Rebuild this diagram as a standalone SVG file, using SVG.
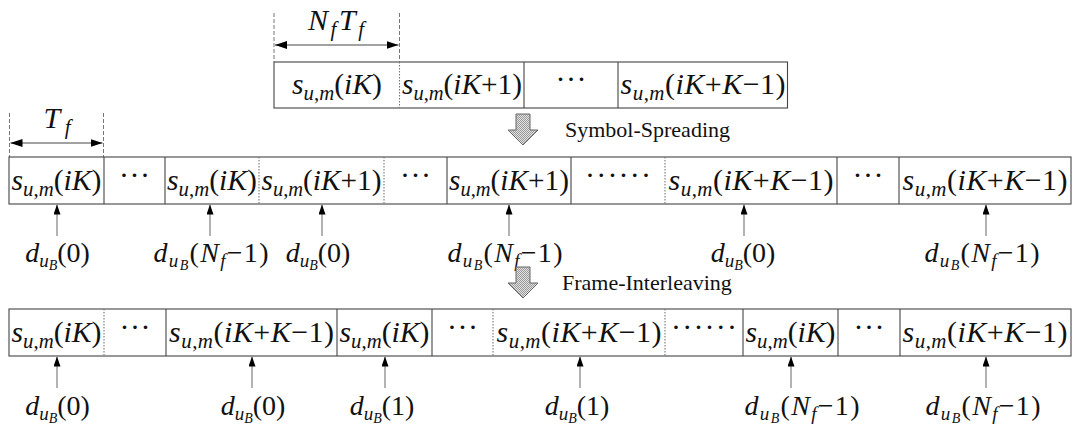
<svg xmlns="http://www.w3.org/2000/svg" width="1073" height="429" viewBox="0 0 1073 429">
<style>
text{font-family:"Liberation Serif","Times New Roman",serif;fill:#111}
.m{font-size:30px}
.d{font-size:28px}
.i{font-style:italic}
.s{font-size:21px}
.ds{font-size:19px}
.ss{font-size:14px}
.lbl{font-size:22px}
.box{fill:#fff;stroke:#444;stroke-width:1.1}
.dv{stroke:#444;stroke-width:1.1}
.dd{stroke:#777;stroke-width:1.1;stroke-dasharray:1.5 1.5}
.stem{stroke:#666;stroke-width:1}
.dim{stroke:#444;stroke-width:1}
.ext{stroke:#777;stroke-width:1;stroke-dasharray:4 2}
.blk{fill:url(#hatch);stroke:#666;stroke-width:1}
</style>
<defs>
<pattern id="hatch" width="2" height="2" patternUnits="userSpaceOnUse"><rect width="2" height="2" fill="#e2e2e2"/><rect width="1" height="1" fill="#9a9a9a"/><rect x="1" y="1" width="1" height="1" fill="#9a9a9a"/></pattern>
<marker id="ah" markerWidth="10" markerHeight="7" refX="10" refY="3.5" orient="auto" markerUnits="userSpaceOnUse"><path d="M0,0 L10,3.5 L0,7 z" fill="#000"/></marker>
<marker id="ah2" markerWidth="12" markerHeight="8" refX="12" refY="4" orient="auto-start-reverse" markerUnits="userSpaceOnUse"><path d="M0,0 L12,4 L0,8 z" fill="#000"/></marker>
</defs>

<!-- Top row -->
<g id="top-row">
<rect class="box" x="274" y="62" width="513.5" height="46"/>
<line class="dd" x1="399.5" y1="62" x2="399.5" y2="108"/>
<line class="dv" x1="524" y1="62" x2="524" y2="108"/>
<line class="dv" x1="618" y1="62" x2="618" y2="108"/>
<text class="m" x="337" y="94" text-anchor="middle" textLength="90" lengthAdjust="spacingAndGlyphs"><tspan class="i">s</tspan><tspan class="s i" dy="6">u</tspan><tspan class="s">,</tspan><tspan class="s i">m</tspan><tspan dy="-6">(</tspan><tspan class="i">iK</tspan>)</text>
<text class="m" x="462" y="94" text-anchor="middle" textLength="120" lengthAdjust="spacingAndGlyphs"><tspan class="i">s</tspan><tspan class="s i" dy="6">u</tspan><tspan class="s">,</tspan><tspan class="s i">m</tspan><tspan dy="-6">(</tspan><tspan class="i">iK</tspan>+1)</text>
<text class="m" x="571" y="89" text-anchor="middle" textLength="31" lengthAdjust="spacing">···</text>
<text class="m" x="703" y="94" text-anchor="middle" textLength="165" lengthAdjust="spacing"><tspan class="i">s</tspan><tspan class="s i" dy="6">u</tspan><tspan class="s">,</tspan><tspan class="s i">m</tspan><tspan dy="-6">(</tspan><tspan class="i">iK</tspan>+<tspan class="i">K</tspan>−1)</text>
</g>

<g id="dim-NfTf">
<line class="ext" x1="274" y1="13" x2="274" y2="62"/>
<line class="ext" x1="399.5" y1="13" x2="399.5" y2="62"/>
<line class="dim" x1="275" y1="45" x2="398.5" y2="45" marker-start="url(#ah2)" marker-end="url(#ah2)"/>
<text class="m" x="336" y="30" text-anchor="middle" textLength="56" lengthAdjust="spacing"><tspan class="i">N</tspan><tspan class="s i" dy="6">f</tspan><tspan class="i" dy="-6">T</tspan><tspan class="s i" dy="6">f</tspan></text>
</g>

<g id="step-symbol-spreading">
<path class="blk" d="M516,114 H530 V130 H538 L523,145 L508,130 H516 Z"/>
<text class="lbl" x="565" y="137">Symbol-Spreading</text>
</g>

<g id="dim-Tf">
<line class="ext" x1="9.5" y1="113" x2="9.5" y2="157"/>
<line class="ext" x1="103.5" y1="113" x2="103.5" y2="157"/>
<line class="dim" x1="10.5" y1="143" x2="102.5" y2="143" marker-start="url(#ah2)" marker-end="url(#ah2)"/>
<text class="m" x="57" y="128" text-anchor="middle" textLength="27" lengthAdjust="spacing"><tspan class="i">T</tspan><tspan class="s i" dy="6">f</tspan></text>
</g>

<!-- Row 2: after symbol spreading -->
<g id="row-spread">
<rect class="box" x="9" y="157" width="1062" height="47"/>
<line class="dv" x1="104" y1="157" x2="104" y2="204"/>
<line class="dv" x1="165" y1="157" x2="165" y2="204"/>
<line class="dd" x1="259" y1="157" x2="259" y2="204"/>
<line class="dd" x1="384" y1="157" x2="384" y2="204"/>
<line class="dv" x1="447" y1="157" x2="447" y2="204"/>
<line class="dv" x1="571" y1="157" x2="571" y2="204"/>
<line class="dd" x1="665" y1="157" x2="665" y2="204"/>
<line class="dv" x1="837" y1="157" x2="837" y2="204"/>
<line class="dv" x1="899" y1="157" x2="899" y2="204"/>
<text class="m" x="56.5" y="189.5" text-anchor="middle" textLength="90" lengthAdjust="spacingAndGlyphs"><tspan class="i">s</tspan><tspan class="s i" dy="6">u</tspan><tspan class="s">,</tspan><tspan class="s i">m</tspan><tspan dy="-6">(</tspan><tspan class="i">iK</tspan>)</text>
<text class="m" x="134.5" y="184.5" text-anchor="middle" textLength="31" lengthAdjust="spacing">···</text>
<text class="m" x="212" y="189.5" text-anchor="middle" textLength="90" lengthAdjust="spacingAndGlyphs"><tspan class="i">s</tspan><tspan class="s i" dy="6">u</tspan><tspan class="s">,</tspan><tspan class="s i">m</tspan><tspan dy="-6">(</tspan><tspan class="i">iK</tspan>)</text>
<text class="m" x="321.5" y="189.5" text-anchor="middle" textLength="120" lengthAdjust="spacingAndGlyphs"><tspan class="i">s</tspan><tspan class="s i" dy="6">u</tspan><tspan class="s">,</tspan><tspan class="s i">m</tspan><tspan dy="-6">(</tspan><tspan class="i">iK</tspan>+1)</text>
<text class="m" x="415.5" y="184.5" text-anchor="middle" textLength="31" lengthAdjust="spacing">···</text>
<text class="m" x="509" y="189.5" text-anchor="middle" textLength="120" lengthAdjust="spacingAndGlyphs"><tspan class="i">s</tspan><tspan class="s i" dy="6">u</tspan><tspan class="s">,</tspan><tspan class="s i">m</tspan><tspan dy="-6">(</tspan><tspan class="i">iK</tspan>+1)</text>
<text class="m" x="618" y="184.5" text-anchor="middle" textLength="66" lengthAdjust="spacing">······</text>
<text class="m" x="751" y="189.5" text-anchor="middle" textLength="165" lengthAdjust="spacing"><tspan class="i">s</tspan><tspan class="s i" dy="6">u</tspan><tspan class="s">,</tspan><tspan class="s i">m</tspan><tspan dy="-6">(</tspan><tspan class="i">iK</tspan>+<tspan class="i">K</tspan>−1)</text>
<text class="m" x="868" y="184.5" text-anchor="middle" textLength="31" lengthAdjust="spacing">···</text>
<text class="m" x="985" y="189.5" text-anchor="middle" textLength="165" lengthAdjust="spacing"><tspan class="i">s</tspan><tspan class="s i" dy="6">u</tspan><tspan class="s">,</tspan><tspan class="s i">m</tspan><tspan dy="-6">(</tspan><tspan class="i">iK</tspan>+<tspan class="i">K</tspan>−1)</text>
</g>

<g id="labels-spread">
<text class="d" x="57.5" y="262" text-anchor="middle"><tspan class="i">d</tspan><tspan class="ds i" dy="5">u</tspan><tspan class="ss i" dy="3">B</tspan><tspan dy="-8">(0)</tspan></text>
<text class="d" x="211" y="262" text-anchor="middle" textLength="115" lengthAdjust="spacing"><tspan class="i">d</tspan><tspan class="ds i" dy="5">u</tspan><tspan class="ss i" dy="3">B</tspan><tspan dy="-8">(</tspan><tspan class="i">N</tspan><tspan class="ds i" dy="5">f</tspan><tspan dy="-5">−1)</tspan></text>
<text class="d" x="318" y="262" text-anchor="middle"><tspan class="i">d</tspan><tspan class="ds i" dy="5">u</tspan><tspan class="ss i" dy="3">B</tspan><tspan dy="-8">(0)</tspan></text>
<text class="d" x="505" y="262" text-anchor="middle" textLength="115" lengthAdjust="spacing"><tspan class="i">d</tspan><tspan class="ds i" dy="5">u</tspan><tspan class="ss i" dy="3">B</tspan><tspan dy="-8">(</tspan><tspan class="i">N</tspan><tspan class="ds i" dy="5">f</tspan><tspan dy="-5">−1)</tspan></text>
<text class="d" x="743" y="262" text-anchor="middle"><tspan class="i">d</tspan><tspan class="ds i" dy="5">u</tspan><tspan class="ss i" dy="3">B</tspan><tspan dy="-8">(0)</tspan></text>
<text class="d" x="982" y="262" text-anchor="middle" textLength="115" lengthAdjust="spacing"><tspan class="i">d</tspan><tspan class="ds i" dy="5">u</tspan><tspan class="ss i" dy="3">B</tspan><tspan dy="-8">(</tspan><tspan class="i">N</tspan><tspan class="ds i" dy="5">f</tspan><tspan dy="-5">−1)</tspan></text>
</g>

<g id="step-frame-interleaving">
<path class="blk" d="M516,267 H530 V283 H538 L523,298 L508,283 H516 Z"/>
<text class="lbl" x="562" y="290">Frame-Interleaving</text>
</g>

<!-- Row 3: after frame interleaving -->
<g id="row-interleave">
<rect class="box" x="9" y="309" width="1062" height="47"/>
<line class="dd" x1="104" y1="309" x2="104" y2="356"/>
<line class="dv" x1="166" y1="309" x2="166" y2="356"/>
<line class="dv" x1="337" y1="309" x2="337" y2="356"/>
<line class="dv" x1="432" y1="309" x2="432" y2="356"/>
<line class="dd" x1="493" y1="309" x2="493" y2="356"/>
<line class="dd" x1="665" y1="309" x2="665" y2="356"/>
<line class="dv" x1="743" y1="309" x2="743" y2="356"/>
<line class="dv" x1="838" y1="309" x2="838" y2="356"/>
<line class="dv" x1="900" y1="309" x2="900" y2="356"/>
<text class="m" x="56.5" y="341.5" text-anchor="middle" textLength="90" lengthAdjust="spacingAndGlyphs"><tspan class="i">s</tspan><tspan class="s i" dy="6">u</tspan><tspan class="s">,</tspan><tspan class="s i">m</tspan><tspan dy="-6">(</tspan><tspan class="i">iK</tspan>)</text>
<text class="m" x="135" y="336.5" text-anchor="middle" textLength="31" lengthAdjust="spacing">···</text>
<text class="m" x="251.5" y="341.5" text-anchor="middle" textLength="165" lengthAdjust="spacing"><tspan class="i">s</tspan><tspan class="s i" dy="6">u</tspan><tspan class="s">,</tspan><tspan class="s i">m</tspan><tspan dy="-6">(</tspan><tspan class="i">iK</tspan>+<tspan class="i">K</tspan>−1)</text>
<text class="m" x="384.5" y="341.5" text-anchor="middle" textLength="90" lengthAdjust="spacingAndGlyphs"><tspan class="i">s</tspan><tspan class="s i" dy="6">u</tspan><tspan class="s">,</tspan><tspan class="s i">m</tspan><tspan dy="-6">(</tspan><tspan class="i">iK</tspan>)</text>
<text class="m" x="462.5" y="336.5" text-anchor="middle" textLength="31" lengthAdjust="spacing">···</text>
<text class="m" x="579" y="341.5" text-anchor="middle" textLength="165" lengthAdjust="spacing"><tspan class="i">s</tspan><tspan class="s i" dy="6">u</tspan><tspan class="s">,</tspan><tspan class="s i">m</tspan><tspan dy="-6">(</tspan><tspan class="i">iK</tspan>+<tspan class="i">K</tspan>−1)</text>
<text class="m" x="704" y="336.5" text-anchor="middle" textLength="66" lengthAdjust="spacing">······</text>
<text class="m" x="790.5" y="341.5" text-anchor="middle" textLength="90" lengthAdjust="spacingAndGlyphs"><tspan class="i">s</tspan><tspan class="s i" dy="6">u</tspan><tspan class="s">,</tspan><tspan class="s i">m</tspan><tspan dy="-6">(</tspan><tspan class="i">iK</tspan>)</text>
<text class="m" x="869" y="336.5" text-anchor="middle" textLength="31" lengthAdjust="spacing">···</text>
<text class="m" x="985" y="341.5" text-anchor="middle" textLength="165" lengthAdjust="spacing"><tspan class="i">s</tspan><tspan class="s i" dy="6">u</tspan><tspan class="s">,</tspan><tspan class="s i">m</tspan><tspan dy="-6">(</tspan><tspan class="i">iK</tspan>+<tspan class="i">K</tspan>−1)</text>
</g>

<g id="labels-interleave">
<text class="d" x="57.5" y="415" text-anchor="middle"><tspan class="i">d</tspan><tspan class="ds i" dy="5">u</tspan><tspan class="ss i" dy="3">B</tspan><tspan dy="-8">(0)</tspan></text>
<text class="d" x="253" y="415" text-anchor="middle"><tspan class="i">d</tspan><tspan class="ds i" dy="5">u</tspan><tspan class="ss i" dy="3">B</tspan><tspan dy="-8">(0)</tspan></text>
<text class="d" x="382" y="415" text-anchor="middle"><tspan class="i">d</tspan><tspan class="ds i" dy="5">u</tspan><tspan class="ss i" dy="3">B</tspan><tspan dy="-8">(1)</tspan></text>
<text class="d" x="577" y="415" text-anchor="middle"><tspan class="i">d</tspan><tspan class="ds i" dy="5">u</tspan><tspan class="ss i" dy="3">B</tspan><tspan dy="-8">(1)</tspan></text>
<text class="d" x="802" y="415" text-anchor="middle" textLength="115" lengthAdjust="spacing"><tspan class="i">d</tspan><tspan class="ds i" dy="5">u</tspan><tspan class="ss i" dy="3">B</tspan><tspan dy="-8">(</tspan><tspan class="i">N</tspan><tspan class="ds i" dy="5">f</tspan><tspan dy="-5">−1)</tspan></text>
<text class="d" x="983" y="415" text-anchor="middle" textLength="115" lengthAdjust="spacing"><tspan class="i">d</tspan><tspan class="ds i" dy="5">u</tspan><tspan class="ss i" dy="3">B</tspan><tspan dy="-8">(</tspan><tspan class="i">N</tspan><tspan class="ds i" dy="5">f</tspan><tspan dy="-5">−1)</tspan></text>
</g>

<g id="connectors">
<line class="stem" x1="57" y1="236" x2="57" y2="204.5" marker-end="url(#ah)"/>
<line class="stem" x1="210" y1="236" x2="210" y2="204.5" marker-end="url(#ah)"/>
<line class="stem" x1="322" y1="236" x2="322" y2="204.5" marker-end="url(#ah)"/>
<line class="stem" x1="509" y1="236" x2="509" y2="204.5" marker-end="url(#ah)"/>
<line class="stem" x1="744" y1="236" x2="744" y2="204.5" marker-end="url(#ah)"/>
<line class="stem" x1="986" y1="236" x2="986" y2="204.5" marker-end="url(#ah)"/>
<line class="stem" x1="57" y1="388" x2="57" y2="356.5" marker-end="url(#ah)"/>
<line class="stem" x1="252" y1="388" x2="252" y2="356.5" marker-end="url(#ah)"/>
<line class="stem" x1="385" y1="388" x2="385" y2="356.5" marker-end="url(#ah)"/>
<line class="stem" x1="580" y1="388" x2="580" y2="356.5" marker-end="url(#ah)"/>
<line class="stem" x1="791" y1="388" x2="791" y2="356.5" marker-end="url(#ah)"/>
<line class="stem" x1="986" y1="388" x2="986" y2="356.5" marker-end="url(#ah)"/>
</g>
</svg>
